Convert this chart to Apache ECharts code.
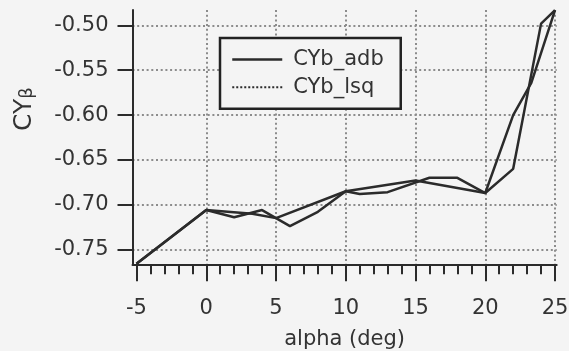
<!DOCTYPE html>
<html>
<head>
<meta charset="utf-8">
<script src="https://cdn.jsdelivr.net/npm/echarts@6/dist/echarts.min.js"></script>
<style>
  html, body { margin: 0; padding: 0; background: #f4f4f4; }
  #chart { width: 569px; height: 351px; }
</style>
</head>
<body>
<div id="chart"></div>
<script>
// Side-force derivative CYβ versus angle of attack, two estimation methods
const adbAlpha = [-5, 0, 2, 4, 6, 8, 10, 11, 13, 16, 18, 20, 22, 24, 25];
const adbCY    = [-0.766, -0.706, -0.714, -0.706, -0.724, -0.708, -0.685, -0.688, -0.686, -0.670, -0.670, -0.687, -0.660, -0.498, -0.483];

const lsqAlpha = [-5, 0, 3.3, 5, 10, 15, 20, 22, 23.3, 25];
const lsqCY    = [-0.766, -0.706, -0.710, -0.715, -0.685, -0.673, -0.687, -0.600, -0.564, -0.483];

const seriesNames = ['CYb_adb', 'CYb_lsq'];
const alphaTicks = [-5, 0, 5, 10, 15, 20, 25];
const cyTicks = [-0.75, -0.70, -0.65, -0.60, -0.55, -0.50];

// one-degree minor ticks between the labelled ones
const alphaMinor = [];
for (let a = alphaTicks[0]; a <= alphaTicks[alphaTicks.length - 1]; a++) {
  if (alphaTicks.indexOf(a) < 0) alphaMinor.push(a);
}

const pairs = (xs, ys) => xs.map((x, i) => [x, ys[i]]);

const FONT = 'DejaVu Sans';
const INK = '#2b2b2b';
const TEXT = '#333333';

const chart = echarts.init(document.getElementById('chart'), null, { renderer: 'canvas' });

chart.setOption({
  backgroundColor: '#f4f4f4',
  animation: false,
  textStyle: { fontFamily: FONT },
  grid: { left: 132.5, right: 12.3, top: 10, bottom: 86.7, containLabel: false, outerBoundsMode: 'none' },
  legend: {
    orient: 'vertical',
    left: 220,
    top: 38,
    padding: [11, 17, 11, 11],
    itemWidth: 50,
    itemHeight: 20,
    itemGap: 6.7,
    borderColor: '#222',
    borderWidth: 2.5,
    backgroundColor: '#f4f4f4',
    textStyle: { fontFamily: FONT, fontSize: 21, color: TEXT, padding: [0, 0, 0, 6] },
    data: [
      {
        name: seriesNames[0],
        itemStyle: { opacity: 0 },
        lineStyle: { type: 'solid', width: 2.5, color: INK }
      },
      {
        name: seriesNames[1],
        itemStyle: { opacity: 0 },
        lineStyle: { type: [2, 2], width: 2, color: INK }
      }
    ]
  },
  xAxis: [
    {
      type: 'value',
      min: -5.287,
      max: 25.12,
      name: 'alpha (deg)',
      nameLocation: 'middle',
      nameGap: 65,
      nameTextStyle: { fontFamily: FONT, fontSize: 21, color: TEXT },
      axisLine: { show: true, onZero: false, lineStyle: { color: INK, width: 2 } },
      axisTick: { show: true, inside: false, length: 17, customValues: alphaTicks, lineStyle: { color: INK, width: 2 } },
      axisLabel: { show: true, margin: 34, customValues: alphaTicks, fontFamily: FONT, fontSize: 21, color: TEXT },
      splitLine: { show: true, showMinLine: false, lineStyle: { color: '#8c8c8c', width: 2, type: [2, 2.7] } }
    },
    {
      type: 'value',
      min: -5.287,
      max: 25.12,
      position: 'bottom',
      axisLine: { show: false },
      axisTick: { show: true, inside: false, length: 10, customValues: alphaMinor, lineStyle: { color: INK, width: 2 } },
      axisLabel: { show: false },
      splitLine: { show: false }
    }
  ],
  yAxis: {
    type: 'value',
    min: -0.7665,
    max: -0.4828,
    name: '{a|CY}{b|β}',
    nameLocation: 'middle',
    nameRotate: 90,
    nameGap: 96,
    nameTextStyle: {
      color: TEXT,
      padding: [0, 0, 0, 56],
      rich: {
        a: { fontFamily: FONT, fontSize: 25, color: TEXT },
        b: { fontFamily: FONT, fontSize: 18, color: TEXT, padding: [6, 0, 0, 0] }
      }
    },
    axisLine: { show: true, onZero: false, lineStyle: { color: INK, width: 2 } },
    axisTick: { show: true, inside: false, length: 15, customValues: cyTicks, lineStyle: { color: INK, width: 2 } },
    axisLabel: {
      show: true, margin: 24, customValues: cyTicks,
      fontFamily: FONT, fontSize: 21, color: TEXT,
      formatter: v => v.toFixed(2)
    },
    splitLine: { show: true, lineStyle: { color: '#8c8c8c', width: 2, type: [2, 2.7] } }
  },
  series: [
    {
      name: seriesNames[0],
      type: 'line',
      xAxisIndex: 0,
      data: pairs(adbAlpha, adbCY),
      symbol: 'none',
      clip: false,
      lineStyle: { color: INK, width: 2.5 },
      itemStyle: { color: INK }
    },
    {
      name: seriesNames[1],
      type: 'line',
      xAxisIndex: 0,
      data: pairs(lsqAlpha, lsqCY),
      symbol: 'none',
      clip: false,
      lineStyle: { color: INK, width: 2.5 },
      itemStyle: { color: INK }
    }
  ]
});
</script>
</body>
</html>
